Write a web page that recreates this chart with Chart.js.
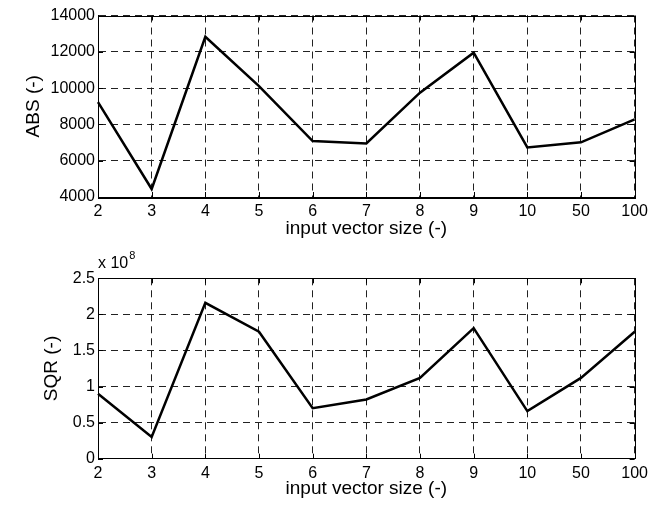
<!DOCTYPE html>
<html>
<head>
<meta charset="utf-8">
<script src="https://cdn.jsdelivr.net/npm/chart.js@4"></script>
<style>
  body { margin: 0; background: #fff; }
  .wrap { position: absolute; left: 0; width: 653px; }
</style>
</head>
<body>
<div class="wrap" style="top:0;height:250px"><canvas id="absChart"></canvas></div>
<div class="wrap" style="top:250px;height:256px"><canvas id="sqrChart"></canvas></div>
<script>
const SIZES   = ["2", "3", "4", "5", "6", "7", "8", "9", "10", "50", "100"];
const ABS     = [9230, 4440, 12830, 10110, 7080, 6950, 9750, 11950, 6730, 7010, 8280];
const SQR     = [0.90e8, 0.30e8, 2.16e8, 1.76e8, 0.70e8, 0.82e8, 1.12e8, 1.81e8, 0.66e8, 1.12e8, 1.76e8];
const ABS_TICKS = [4000, 6000, 8000, 10000, 12000, 14000];
const SQR_TICKS = [0, 0.5e8, 1e8, 1.5e8, 2e8, 2.5e8];

const FONT = "Arial, 'Liberation Sans', sans-serif";

// MATLAB style box + inward tick marks
const boxPlugin = {
  id: "box",
  afterDraw(chart) {
    const { ctx, chartArea: a, scales } = chart;
    ctx.save();
    ctx.strokeStyle = "#000";
    ctx.lineWidth = 1;
    ctx.beginPath();
    scales.x.ticks.forEach((t, i) => {
      const px = Math.round(scales.x.getPixelForTick(i)) + 0.5;
      ctx.moveTo(px, a.bottom); ctx.lineTo(px, a.bottom - 5);
      ctx.moveTo(px, a.top); ctx.lineTo(px, a.top + 5);
    });
    scales.y.ticks.forEach((t, i) => {
      const py = Math.round(scales.y.getPixelForTick(i)) + 0.5;
      ctx.moveTo(a.left, py); ctx.lineTo(a.left + 5, py);
      ctx.moveTo(a.right, py); ctx.lineTo(a.right - 5, py);
    });
    ctx.stroke();
    ctx.strokeRect(Math.round(a.left) + 0.5, Math.round(a.top) + 0.5,
                   Math.round(a.right - a.left), Math.round(a.bottom - a.top));
    const exp = chart.options.plugins.box && chart.options.plugins.box.exponent;
    if (exp) {
      ctx.fillStyle = "#000";
      ctx.textBaseline = "alphabetic";
      ctx.textAlign = "left";
      ctx.font = "16px " + FONT;
      ctx.fillText("x 10", a.left, a.top - 10);
      const w = ctx.measureText("x 10").width;
      ctx.font = "11px " + FONT;
      ctx.fillText(exp, a.left + w + 1, a.top - 19);
    }
    ctx.restore();
  }
};

function makeChart(id, data, ticks, min, max, yTitle, opts) {
  return new Chart(document.getElementById(id), {
    type: "line",
    data: {
      labels: SIZES,
      datasets: [{ data, borderColor: "#000", borderWidth: 2.5, pointRadius: 0, tension: 0, fill: false }]
    },
    options: {
      responsive: true, maintainAspectRatio: false, animation: false,
      layout: { padding: { top: opts.top, right: 15, left: 0, bottom: 0 } },
      plugins: { legend: { display: false }, tooltip: { enabled: false }, box: { exponent: opts.exponent } },
      scales: {
        x: {
          offset: false,
          grid: { color: "#222", lineWidth: 1, drawTicks: false },
          border: { display: true, color: "#000", dash: [7, 5] },
          ticks: { color: "#000", font: { size: 16, family: FONT }, padding: 5, maxRotation: 0, autoSkip: false },
          title: { display: true, text: "input vector size (-)", color: "#000", font: { size: 19, family: FONT }, padding: { bottom: opts.xTitlePad, top: 0 } },
          afterFit: (s) => { s.height = opts.xHeight; }
        },
        y: {
          min, max,
          afterBuildTicks: (s) => { s.ticks = ticks.map((v) => ({ value: v })); },
          grid: { color: "#222", lineWidth: 1, drawTicks: false },
          border: { display: true, color: "#000", dash: [7, 5] },
          ticks: {
            color: "#000", font: { size: 16, family: FONT }, padding: 3,
            callback: opts.fmt
          },
          title: { display: true, text: yTitle, color: "#000", font: { size: 19, family: FONT }, padding: { top: opts.yTitlePad, bottom: 0 } },
          afterFit: (s) => { s.width = 98; }
        }
      }
    },
    plugins: [boxPlugin]
  });
}

const absChart = makeChart("absChart", ABS, ABS_TICKS, 4000, 14000, "ABS (-)", {
  top: 15.5, xHeight: 53, xTitlePad: 10, yTitlePad: 22, exponent: null,
  fmt: (v) => String(v)
});
const sqrChart = makeChart("sqrChart", SQR, SQR_TICKS, 0, 2.5e8, "SQR (-)", {
  top: 28.3, xHeight: 47.3, xTitlePad: 6, yTitlePad: 40, exponent: "8",
  fmt: (v) => String(v / 1e8)
});
</script>
</body>
</html>
